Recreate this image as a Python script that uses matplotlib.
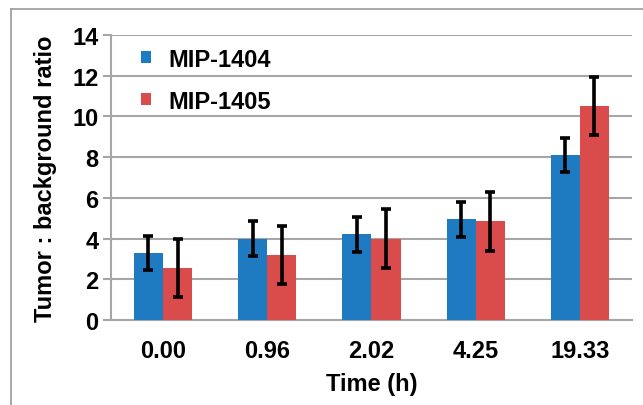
import matplotlib
matplotlib.use("Agg")
import matplotlib.pyplot as plt
import numpy as np
from matplotlib.lines import Line2D

categories = ["0.00", "0.96", "2.02", "4.25", "19.33"]
mip1404 = [3.3, 4.0, 4.2, 4.95, 8.1]
mip1404_err = [0.85, 0.85, 0.85, 0.85, 0.85]
mip1405 = [2.55, 3.2, 4.0, 4.85, 10.5]
mip1405_err = [1.43, 1.43, 1.43, 1.45, 1.43]
yticks = [0, 2, 4, 6, 8, 10, 12, 14]

plt.rcParams['font.family'] = ['Liberation Sans', 'DejaVu Sans']

fig = plt.figure(figsize=(6.43, 4.06), dpi=100)
ax = fig.add_axes([0.1726, 0.2094, 0.9829 - 0.1726, 0.9113 - 0.2094])

x = np.arange(len(categories))
w = 0.28
blue = '#1F7BC1'
red = '#DA4B4B'
ax.bar(x - w/2, mip1404, w, color=blue, label='MIP-1404', zorder=2)
ax.bar(x + w/2, mip1405, w, color=red, label='MIP-1405', zorder=2)
ekw = dict(fmt='none', ecolor='black', elinewidth=2.6, capsize=3.5, capthick=2.6, zorder=3)
ax.errorbar(x - w/2, mip1404, yerr=mip1404_err, **ekw)
ax.errorbar(x + w/2, mip1405, yerr=mip1405_err, **ekw)

ax.set_xlim(-0.5, len(categories) - 0.5)
ax.set_ylim(0, 14)
ax.set_yticks(yticks)
ax.set_yticklabels([str(t) for t in yticks], fontsize=17, fontweight='bold')
ax.set_xticks(x)
ax.set_xticklabels(categories, fontsize=17, fontweight='bold')
ax.tick_params(axis='x', length=0, pad=14)
ax.tick_params(axis='y', length=6, width=1.5, color='#A6A6A6', pad=3)
ax.yaxis.grid(True, color='#A6A6A6', linewidth=1.5, zorder=0)
ax.set_axisbelow(True)
for s in ['top', 'right', 'bottom']:
    ax.spines[s].set_visible(False)
ax.spines['left'].set_color('#A6A6A6')
ax.spines['left'].set_linewidth(1.5)
ax.axhline(0, color='#A6A6A6', linewidth=1.5, zorder=1, clip_on=False)

ax.set_xlabel('Time (h)', fontsize=17, fontweight='bold', labelpad=7)
ax.set_ylabel('Tumor : background ratio', fontsize=17, fontweight='bold', labelpad=11)

leg = ax.legend(loc='upper left', bbox_to_anchor=(0.017, 1.03), frameon=False,
                prop={'size': 17, 'weight': 'bold'}, handlelength=0.42, handleheight=0.42,
                handletextpad=0.75, labelspacing=0.8)

# figure frame (top and left edges)
fig.add_artist(Line2D([11/643, 11/643], [0, 1 - 10/406], color='#9A9A9A', lw=1.2, transform=fig.transFigure))
fig.add_artist(Line2D([11/643, 1], [1 - 10/406, 1 - 10/406], color='#9A9A9A', lw=1.2, transform=fig.transFigure))

fig.savefig('out.png', dpi=100)
